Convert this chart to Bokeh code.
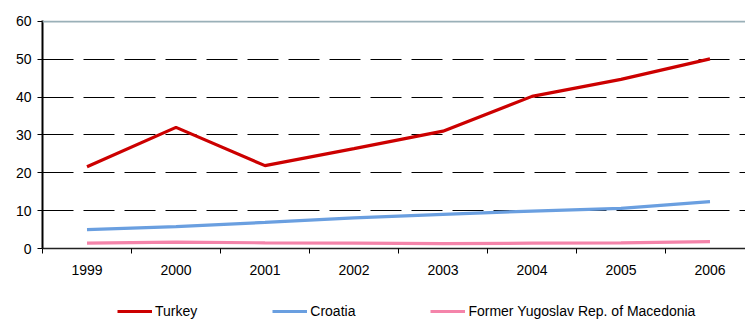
from bokeh.plotting import figure
from bokeh.layouts import column
from bokeh.models import Range1d, FixedTicker, Span, Legend, LegendItem
from bokeh.embed import file_html
from bokeh.resources import INLINE

years = [1999, 2000, 2001, 2002, 2003, 2004, 2005, 2006]
year_labels = ["1999", "2000", "2001", "2002", "2003", "2004", "2005", "2006"]
turkey = [21.6, 32.0, 21.9, 26.4, 31.0, 40.2, 44.7, 50.1]
croatia = [5.0, 5.8, 6.9, 8.1, 9.0, 9.9, 10.6, 12.4]
macedonia = [1.4, 1.7, 1.5, 1.4, 1.3, 1.4, 1.5, 1.8]
series_names = ["Turkey", "Croatia", "Former Yugoslav Rep. of Macedonia"]
series_colors = ["#CC0000", "#6A9FE0", "#F484AA"]
y_ticks = [0, 10, 20, 30, 40, 50, 60]
grid_ticks = [10, 20, 30, 40, 50]

FONT = "Liberation Sans"

p = figure(width=745, height=290, output_backend="svg", toolbar_location=None,
           x_range=Range1d(1998.5, 2006.399), y_range=Range1d(0, 60.25),
           min_border_left=42, min_border_right=0, min_border_top=20,
           min_border_bottom=42)
p.outline_line_color = None
p.background_fill_color = "white"

# x axis: labels at category centres, ticks at boundaries
xt = FixedTicker(ticks=years, minor_ticks=[y - 0.5 for y in years] + [years[-1] + 0.5])
p.xaxis.ticker = xt
p.xaxis.major_label_overrides = {y: l for y, l in zip(years, year_labels)}
p.xaxis.major_tick_line_color = None
p.xaxis.major_tick_out = 0
p.xaxis.major_tick_in = 0
p.xaxis.minor_tick_line_color = "black"
p.xaxis.minor_tick_out = 5
p.xaxis.minor_tick_in = 0
p.xaxis.axis_line_color = "#222222"
p.xaxis.axis_line_width = 1.3
p.xaxis.major_label_standoff = 11
p.xaxis.major_label_text_font = FONT
p.xaxis.major_label_text_font_size = "14px"
p.xaxis.major_label_text_color = "black"

p.yaxis.ticker = FixedTicker(ticks=y_ticks)
p.yaxis.minor_tick_line_color = None
p.yaxis.major_tick_out = 5
p.yaxis.major_tick_in = 0
p.yaxis.major_tick_line_color = "black"
p.yaxis.axis_line_color = "black"
p.yaxis.axis_line_width = 2
p.yaxis.major_label_standoff = 6
p.yaxis.major_label_text_font = FONT
p.yaxis.major_label_text_font_size = "14px"
p.yaxis.major_label_text_color = "black"

p.xgrid.grid_line_color = None
p.ygrid.ticker = FixedTicker(ticks=grid_ticks)
p.ygrid.grid_line_color = "black"
p.ygrid.grid_line_width = 1
p.ygrid.grid_line_dash = "31 10"

p.add_layout(Span(location=60, dimension="width", line_color="#9AB0B8", line_width=2))

all_series = [turkey, croatia, macedonia]
for vals, col in zip(all_series, series_colors):
    p.line(years, vals, line_color=col, line_width=3.2)

# legend strip below the chart (its own renderers sit outside its visible ranges)
lg = figure(width=745, height=31, output_backend="svg", toolbar_location=None,
            x_axis_location=None, y_axis_location=None,
            min_border_left=0, min_border_right=0, min_border_top=0, min_border_bottom=0,
            x_range=Range1d(0, 1), y_range=Range1d(-2, -1))
lg.grid.visible = False
lg.outline_line_color = None
items = []
for name, vals, col in zip(series_names, all_series, series_colors):
    r = lg.line(years, vals, line_color=col, line_width=3.2)
    items.append(LegendItem(label=name, renderers=[r]))

legend = Legend(items=items, orientation="horizontal", location=(75, 0))
legend.border_line_color = None
legend.background_fill_alpha = 0
legend.padding = 0
legend.margin = 0
legend.spacing = 75
legend.glyph_width = 35
legend.label_standoff = 3
legend.label_text_font = FONT
legend.label_text_font_size = "14px"
legend.label_text_color = "black"
lg.add_layout(legend)

layout = column(p, lg, spacing=0)
open("out.html", "w").write(file_html(layout, INLINE))
